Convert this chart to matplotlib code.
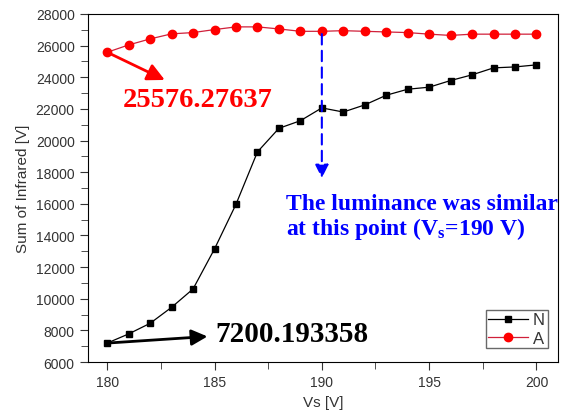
import numpy as np
import matplotlib.pyplot as plt

plt.rcParams['mathtext.fontset'] = 'custom'
plt.rcParams['mathtext.rm'] = 'Liberation Serif:bold'
plt.rcParams['mathtext.it'] = 'Liberation Serif:bold'

vs = [180, 181, 182, 183, 184, 185, 186, 187, 188, 189, 190,
      191, 192, 193, 194, 195, 196, 197, 198, 199, 200]
n_vals = [7200, 7780, 8450, 9460, 10620, 13150, 15970, 19280, 20770, 21250, 22060,
          21800, 22250, 22860, 23240, 23370, 23790, 24150, 24590, 24650, 24780]
a_vals = [25576, 26040, 26420, 26740, 26820, 27010, 27180, 27180, 27050, 26900, 26900,
          26940, 26900, 26860, 26820, 26720, 26640, 26720, 26720, 26720, 26720]

fig = plt.figure(figsize=(5.67, 4.14), dpi=100)
ax = fig.add_axes([0.155, 0.123, 0.829, 0.841])

ax.plot(vs, n_vals, color='black', lw=0.9, marker='s', ms=5, label='N')
ax.plot(vs, a_vals, color='#d0203a', lw=0.9, marker='o', ms=6,
        mfc='red', mec='red', label='A')

ax.set_xlim(179.1, 201)
ax.set_ylim(6000, 28000)
ax.set_xticks([180, 185, 190, 195, 200])
ax.set_xticks([182.5, 187.5, 192.5, 197.5], minor=True)
ax.set_yticks(np.arange(6000, 28001, 2000))
ax.set_yticks(np.arange(7000, 28000, 2000), minor=True)
ax.tick_params(which='both', direction='out', top=False, right=False,
               labelsize=10, colors='#333333')
ax.tick_params(which='major', length=6)
ax.tick_params(which='minor', length=5)
for lbl in ax.get_xticklabels() + ax.get_yticklabels():
    lbl.set_fontfamily('Liberation Sans')

ax.set_xlabel('Vs [V]', fontsize=11, family='Liberation Sans', color='#333333')
ax.set_ylabel('Sum of Infrared [V]', fontsize=11, family='Liberation Sans',
              color='#333333')

# red annotation
ax.annotate('', xy=(182.8, 23750), xytext=(180, a_vals[0]),
            arrowprops=dict(arrowstyle='-|>', color='red', lw=2,
                            mutation_scale=26))
ax.text(184.2, 22600, '25576.27637', color='red', fontsize=20.5,
        fontweight='bold', family='Liberation Serif', ha='center', va='center')

# black annotation
ax.annotate('', xy=(184.8, 7630), xytext=(180, n_vals[0]),
            arrowprops=dict(arrowstyle='-|>', color='black', lw=2,
                            mutation_scale=24))
ax.text(185.05, 7780, '7200.193358', color='black', fontsize=21,
        fontweight='bold', family='Liberation Serif', ha='left', va='center')

# blue dashed arrow at 190 V
ax.annotate('', xy=(190, 17450), xytext=(190, a_vals[10]),
            arrowprops=dict(arrowstyle='-|>', color='blue', lw=1.5,
                            linestyle=(0, (5, 3)), mutation_scale=20))
ax.text(188.35, 15150, 'The luminance was similar\nat this point (V$_{s}$=190 V)',
        color='blue', fontsize=17, fontweight='bold', family='Liberation Serif',
        ha='left', va='center', linespacing=1.05)

leg = ax.legend(loc='lower right', bbox_to_anchor=(0.985, 0.03),
                prop={'family': 'Liberation Sans', 'size': 12},
                fancybox=False, handlelength=2.4, borderpad=0.15,
                labelspacing=0.2, handletextpad=0.3, borderaxespad=0.2)
leg.get_frame().set_edgecolor('#444444')
leg.get_frame().set_linewidth(1)
for t in leg.get_texts():
    t.set_color('#333333')

fig.savefig('out.png', dpi=100)
